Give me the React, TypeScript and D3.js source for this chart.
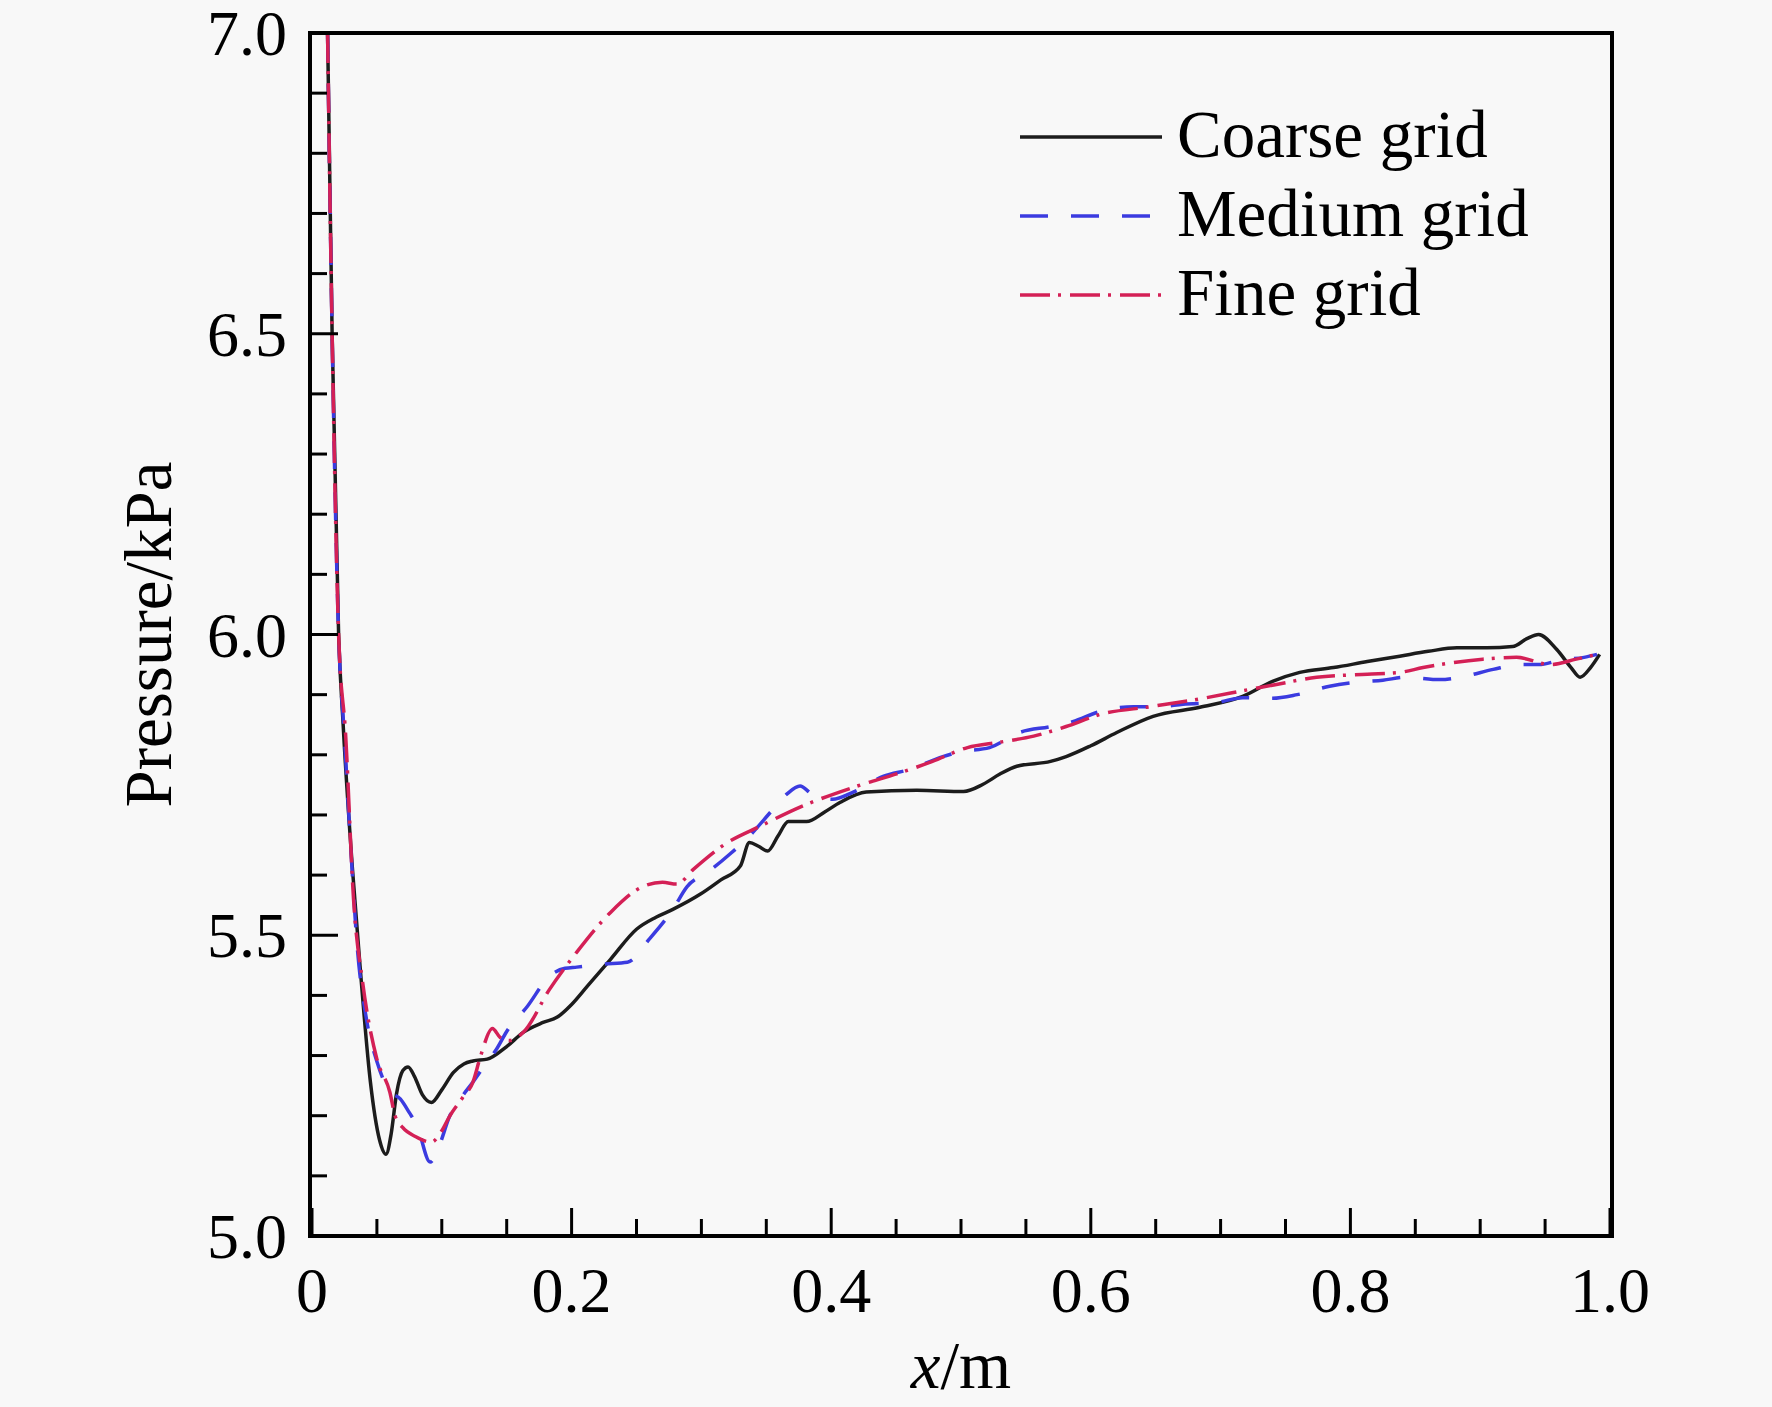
import React, { useEffect } from "react";
import * as d3 from "d3";

// x positions (m) and pressure (kPa)
const coarseX = [0.012, 0.0155, 0.0205, 0.024, 0.031, 0.037, 0.045, 0.052, 0.057, 0.061, 0.065, 0.07, 0.074, 0.079, 0.085, 0.092, 0.1, 0.109, 0.117, 0.124, 0.135, 0.15, 0.163, 0.178, 0.189, 0.2, 0.212, 0.23, 0.25, 0.265, 0.278, 0.299, 0.315, 0.33, 0.337, 0.344, 0.351, 0.359, 0.367, 0.381, 0.395, 0.407, 0.427, 0.466, 0.502, 0.517, 0.53, 0.543, 0.569, 0.581, 0.6, 0.62, 0.648, 0.684, 0.717, 0.74, 0.761, 0.787, 0.813, 0.838, 0.86, 0.882, 0.905, 0.925, 0.936, 0.945, 0.959, 0.97, 0.977, 0.985, 0.992];
const coarseY = [7.0, 6.5, 6.0, 5.85, 5.615, 5.449, 5.256, 5.16, 5.136, 5.17, 5.235, 5.275, 5.281, 5.265, 5.235, 5.222, 5.243, 5.272, 5.286, 5.291, 5.294, 5.315, 5.339, 5.355, 5.364, 5.385, 5.415, 5.46, 5.51, 5.53, 5.543, 5.568, 5.592, 5.615, 5.654, 5.648, 5.64, 5.665, 5.689, 5.689, 5.705, 5.721, 5.738, 5.741, 5.739, 5.751, 5.768, 5.781, 5.789, 5.797, 5.815, 5.837, 5.864, 5.879, 5.897, 5.922, 5.937, 5.945, 5.955, 5.964, 5.972, 5.978, 5.978, 5.98, 5.993, 6.0, 5.975, 5.945, 5.929, 5.945, 5.967];

const mediumX = [0.012, 0.0155, 0.0205, 0.025, 0.03, 0.035, 0.042, 0.05, 0.06, 0.068, 0.075, 0.081, 0.091, 0.098, 0.106, 0.115, 0.124, 0.135, 0.142, 0.15, 0.166, 0.183, 0.195, 0.204, 0.224, 0.243, 0.26, 0.278, 0.289, 0.305, 0.322, 0.337, 0.355, 0.366, 0.376, 0.385, 0.401, 0.417, 0.44, 0.461, 0.486, 0.499, 0.522, 0.545, 0.569, 0.586, 0.607, 0.633, 0.653, 0.671, 0.697, 0.717, 0.74, 0.759, 0.784, 0.802, 0.825, 0.843, 0.869, 0.887, 0.91, 0.931, 0.945, 0.963, 0.98, 0.99];
const mediumY = [7.0, 6.5, 6.0, 5.83, 5.64, 5.477, 5.36, 5.29, 5.24, 5.228, 5.205, 5.183, 5.123, 5.15, 5.199, 5.23, 5.256, 5.29, 5.31, 5.34, 5.382, 5.432, 5.445, 5.447, 5.452, 5.455, 5.494, 5.543, 5.581, 5.605, 5.635, 5.665, 5.709, 5.735, 5.748, 5.735, 5.726, 5.738, 5.764, 5.776, 5.797, 5.805, 5.812, 5.837, 5.847, 5.855, 5.872, 5.88, 5.88, 5.884, 5.887, 5.895, 5.894, 5.9, 5.914, 5.92, 5.924, 5.929, 5.925, 5.93, 5.942, 5.95, 5.95, 5.958, 5.962, 5.967];

const fineX = [0.012, 0.0155, 0.0205, 0.026, 0.032, 0.039, 0.05, 0.06, 0.064, 0.07, 0.08, 0.092, 0.1, 0.106, 0.116, 0.124, 0.13, 0.139, 0.145, 0.152, 0.163, 0.183, 0.204, 0.23, 0.255, 0.27, 0.281, 0.294, 0.32, 0.345, 0.376, 0.42, 0.453, 0.478, 0.505, 0.53, 0.556, 0.581, 0.607, 0.646, 0.684, 0.723, 0.743, 0.774, 0.813, 0.838, 0.856, 0.902, 0.928, 0.954, 0.974, 0.99];
const fineY = [7.0, 6.5, 6.0, 5.83, 5.56, 5.422, 5.294, 5.239, 5.2, 5.18, 5.165, 5.156, 5.175, 5.199, 5.23, 5.256, 5.3, 5.345, 5.33, 5.325, 5.339, 5.41, 5.472, 5.538, 5.581, 5.588, 5.585, 5.61, 5.654, 5.681, 5.713, 5.748, 5.77, 5.789, 5.812, 5.821, 5.831, 5.847, 5.867, 5.88, 5.893, 5.909, 5.917, 5.929, 5.934, 5.937, 5.945, 5.959, 5.962, 5.95, 5.959, 5.967];

const seriesNames = ["Coarse grid", "Medium grid", "Fine grid"];
const xMajor = [0, 0.2, 0.4, 0.6, 0.8, 1.0];
const xLabels = ["0", "0.2", "0.4", "0.6", "0.8", "1.0"];
const yMajor = [5.0, 5.5, 6.0, 6.5, 7.0];
const yLabels = ["5.0", "5.5", "6.0", "6.5", "7.0"];

const W = 1772;
const H = 1407;
const margin = { left: 312, right: 160, top: 33, bottom: 171 };
const FONT = "'Liberation Serif', 'Times New Roman', serif";

const styles = [
  { stroke: "#1c1c1c", dash: "none" },
  { stroke: "#3b3be0", dash: "28 23" },
  { stroke: "#d42056", dash: "30 8 3 9" },
];

const App: React.FC = () => {
  useEffect(() => {
    document.body.style.margin = "0";
    document.body.style.background = "#f8f8f8";
  }, []);

  const x = d3.scaleLinear().domain([0, 1]).range([margin.left, W - margin.right - 2]);
  const y = d3.scaleLinear().domain([5, 7]).range([H - margin.bottom, margin.top]);

  const line = d3
    .line<[number, number]>()
    .x((d) => x(d[0]))
    .y((d) => y(d[1]))
    .curve(d3.curveMonotoneX);

  const series = [
    coarseX.map((v, i) => [v, coarseY[i]] as [number, number]),
    mediumX.map((v, i) => [v, mediumY[i]] as [number, number]),
    fineX.map((v, i) => [v, fineY[i]] as [number, number]),
  ];

  const xMinor = d3.range(0, 1.0001, 0.05).filter((v) => !xMajor.some((m) => Math.abs(m - v) < 1e-6));
  const yMinor = d3.range(5, 7.0001, 0.1).filter((v) => !yMajor.some((m) => Math.abs(m - v) < 1e-6));

  const x0 = x(0) - 2;
  const x1 = W - margin.right;
  const y0 = H - margin.bottom;
  const y1 = margin.top;

  return (
    <svg width={W} height={H} style={{ display: "block", background: "#f8f8f8" }} fontFamily={FONT}>
      <defs>
        <clipPath id="plot">
          <rect x={x0} y={y1} width={x1 - x0} height={y0 - y1} />
        </clipPath>
      </defs>

      {/* curves */}
      <g clipPath="url(#plot)">
        {series.map((s, i) => (
          <path
            key={seriesNames[i]}
            d={line(s) ?? ""}
            fill="none"
            stroke={styles[i].stroke}
            strokeWidth={3.5}
            strokeDasharray={styles[i].dash}
          />
        ))}
      </g>

      {/* ticks */}
      {xMajor.map((v) => (
        <line key={"xM" + v} x1={x(v)} x2={x(v)} y1={y0} y2={y0 - 28} stroke="#000" strokeWidth={3} />
      ))}
      {xMinor.map((v) => (
        <line key={"xm" + v} x1={x(v)} x2={x(v)} y1={y0} y2={y0 - 17} stroke="#000" strokeWidth={3} />
      ))}
      {yMajor.map((v) => (
        <line key={"yM" + v} x1={x0} x2={x0 + 28} y1={y(v)} y2={y(v)} stroke="#000" strokeWidth={3} />
      ))}
      {yMinor.map((v) => (
        <line key={"ym" + v} x1={x0} x2={x0 + 17} y1={y(v)} y2={y(v)} stroke="#000" strokeWidth={3} />
      ))}

      {/* frame */}
      <rect x={x0} y={y1} width={x1 - x0} height={y0 - y1} fill="none" stroke="#000" strokeWidth={4} />

      {/* tick labels */}
      {xMajor.map((v, i) => (
        <text key={"xl" + v} x={x(v)} y={1312} textAnchor="middle" fontSize={64} fill="#000">
          {xLabels[i]}
        </text>
      ))}
      {yMajor.map((v, i) => (
        <text key={"yl" + v} x={287} y={y(v) + 22} textAnchor="end" fontSize={64} fill="#000">
          {yLabels[i]}
        </text>
      ))}

      {/* axis titles */}
      <text x={(x0 + x1) / 2} y={1388} textAnchor="middle" fontSize={67} fill="#000">
        <tspan fontStyle="italic">x</tspan>/m
      </text>
      <text
        transform={`translate(171, ${(y0 + y1) / 2}) rotate(-90)`}
        textAnchor="middle"
        fontSize={67}
        fill="#000"
      >
        Pressure/kPa
      </text>

      {/* legend */}
      {seriesNames.map((name, i) => {
        const ly = 137 + i * 79;
        return (
          <g key={name}>
            <line
              x1={1020}
              x2={1162}
              y1={ly}
              y2={ly}
              stroke={styles[i].stroke}
              strokeWidth={3.5}
              strokeDasharray={styles[i].dash}
            />
            <text x={1177} y={ly + 20} fontSize={67} fill="#000">
              {name}
            </text>
          </g>
        );
      })}
    </svg>
  );
};

export default App;
